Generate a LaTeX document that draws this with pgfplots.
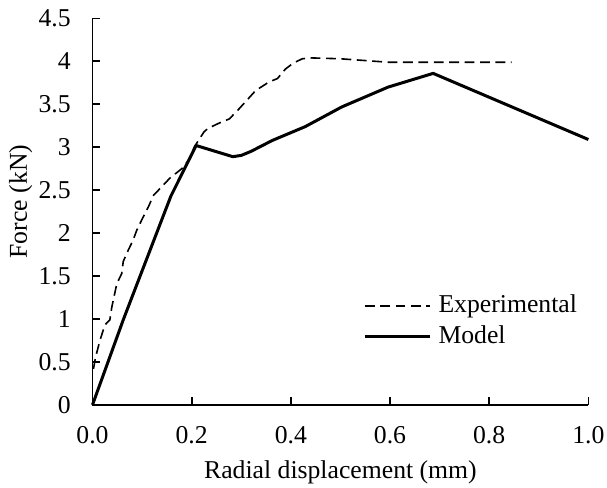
\documentclass[border=0pt]{standalone}
\usepackage{pgfplots}
\pgfplotsset{compat=1.18}
\usepackage{fontspec}
\setmainfont{Liberation Serif}
\begin{document}
\begin{tikzpicture}
\begin{axis}[
  scale only axis,
  width=231.6pt, height=180.5pt,
  xmin=0, xmax=1, ymin=0, ymax=4.5,
  axis x line*=bottom, axis y line*=left,
  axis line style={line width=0.9pt, -},
  tick align=inside,
  major tick length=3.7pt,
  tick style={line width=0.8pt, black},
  xtick={0,0.2,0.4,0.6,0.8,1.0},
  ytick={0,0.5,1,1.5,2,2.5,3,3.5,4,4.5},
  xticklabel style={/pgf/number format/fixed, /pgf/number format/precision=1, /pgf/number format/fixed zerofill, anchor=base, yshift=-18.2pt},
  yticklabel style={anchor=east, inner sep=0pt, xshift=-10pt},
  /pgf/number format/assume math mode=true,
  scaled ticks=false,
  tick label style={font=\fontsize{12}{14.5}\selectfont},
  label style={font=\fontsize{12}{14.5}\selectfont},
  xlabel={Radial displacement (mm)},
  ylabel={Force (kN)},
  xlabel style={at={(axis description cs:0.5,-0.1917)}, anchor=base},
  ylabel style={at={(axis description cs:-0.1321,0.526)}, anchor=base},
  clip=false,
  legend cell align=left,
  legend style={draw=none, fill=none, inner sep=0pt, at={(axis description cs:0.545,0.216)}, anchor=west,
    font=\fontsize{12}{14.5}\selectfont, row sep=0pt, column sep=1.7pt,
    nodes={inner ysep=0pt, inner xsep=1.6pt, text height=10.5pt, text depth=4pt}},
  legend image code/.code={\draw[#1] (0pt,0pt) -- (30.5pt,0pt);},
]
\addplot[black, line width=0.75pt, dash pattern=on 4.6pt off 2.6pt] coordinates {
(0.002,0.42) (0.006,0.55) (0.015,0.75) (0.025,0.93) (0.035,0.99) (0.039,1.14) (0.049,1.41)
(0.059,1.53) (0.062,1.67) (0.072,1.80) (0.082,1.92) (0.089,2.03) (0.099,2.15) (0.113,2.31)
(0.123,2.44) (0.133,2.50) (0.156,2.64) (0.180,2.75) (0.197,2.87) (0.205,3.00)
(0.225,3.18) (0.233,3.22) (0.255,3.28) (0.276,3.33) (0.296,3.45) (0.329,3.66) (0.356,3.76)
(0.373,3.80) (0.389,3.91) (0.405,3.98) (0.423,4.03) (0.442,4.04) (0.500,4.03) (0.596,3.99)
(0.700,3.99) (0.845,3.99)
};
\addlegendentry{Experimental}
\addplot[black, line width=1.4pt] coordinates {
(0,0) (0.062,0.99) (0.116,1.80) (0.158,2.43) (0.209,3.02) (0.283,2.89) (0.300,2.905) (0.319,2.95)
(0.363,3.08) (0.429,3.24) (0.503,3.47) (0.596,3.70) (0.687,3.86) (1.0,3.09)
};
\addlegendentry{Model}
\end{axis}
\pgfresetboundingbox
\path[use as bounding box] ([shift={(-43.2pt,-38.8pt)}]current axis.south west) rectangle ([shift={(240.3pt,189.1pt)}]current axis.south west);
\end{tikzpicture}
\end{document}
